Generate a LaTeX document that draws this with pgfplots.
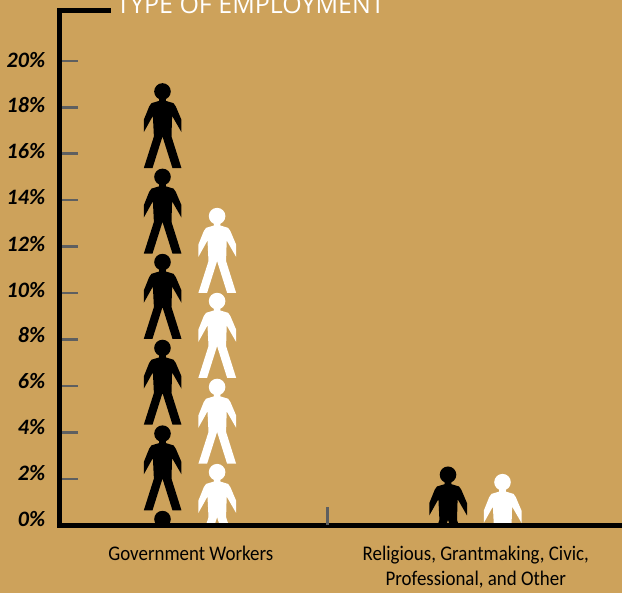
\documentclass[border=0pt]{standalone}
\usepackage{fontspec}
\setmainfont{Carlito}
\newfontfamily\titlefont{Open Sans}
\newfontfamily\catfont[FakeStretch=0.91]{Carlito}
\usepackage{pgfplots}
\pgfplotsset{compat=1.18}
\definecolor{kraft}{HTML}{CDA25B}
\definecolor{tickgray}{HTML}{5E5F60}
% one drawing unit: all sizes below are given in these units
\newdimen\u \u=0.75pt
% pictogram of a standing figure, anchored at the top of the head
\newcommand\pp[2]{\pgfqpoint{#1\u}{#2\u}}
\pgfdeclareplotmark{person}{%
  \pgfpathcircle{\pp{0}{-8.3}}{8.3\u}%
  \pgfpathmoveto{\pp{-3.3}{-15}}%
  \pgfpathlineto{\pp{-3.3}{-17.7}}%
  \pgfpathlineto{\pp{-11}{-20}}%
  \pgfpathlineto{\pp{-13.3}{-23.3}}%
  \pgfpathlineto{\pp{-18.7}{-36.7}}%
  \pgfpathlineto{\pp{-18.7}{-49}}%
  \pgfpathlineto{\pp{-9.6}{-32.7}}%
  \pgfpathlineto{\pp{-8.6}{-53.3}}%
  \pgfpathlineto{\pp{-18.7}{-85}}%
  \pgfpathlineto{\pp{-10}{-85}}%
  \pgfpathlineto{\pp{0}{-53.3}}%
  \pgfpathlineto{\pp{10}{-85}}%
  \pgfpathlineto{\pp{19}{-85}}%
  \pgfpathlineto{\pp{9}{-53.3}}%
  \pgfpathlineto{\pp{9.6}{-32.7}}%
  \pgfpathlineto{\pp{19}{-49}}%
  \pgfpathlineto{\pp{19}{-36.7}}%
  \pgfpathlineto{\pp{13.3}{-23.3}}%
  \pgfpathlineto{\pp{11}{-20}}%
  \pgfpathlineto{\pp{3.3}{-17.7}}%
  \pgfpathlineto{\pp{3.3}{-15}}%
  \pgfpathclose
  \pgfusepathqfill
}
% percent label with a small vertical offset; box size fixed so the node stays put
\newcommand\lab[2]{\raisebox{#1\u}[0.7em][0pt]{\bfseries\itshape\fontsize{22\u}{22\u}\selectfont #2}}
\begin{document}
\begin{tikzpicture}
\useasboundingbox (0,0) rectangle (622\u,593\u);
\clip (0,0) rectangle (622\u,593\u);
\fill[kraft] (0,0) rectangle (622\u,593\u);
\begin{axis}[
  at={(59.8\u,67.8\u)}, anchor=south west,
  scale only axis, width=580\u, height=514.7\u,
  xmin=-0.4596, xmax=1.5754, ymin=0, ymax=22.17,
  axis x line=bottom, axis y line=left,
  axis line style={-, black, line width=5\u, line cap=rect},
  axis on top,
  clip=true, clip marker paths=true,
  tick align=inside, major tick length=18\u,
  ytick={0,2,...,20},
  yticklabels={\lab{4.5}{0\%},\lab{4}{2\%},\lab{3.7}{4\%},\lab{3.2}{6\%},\lab{3}{8\%},\lab{2}{10\%},\lab{1.5}{12\%},\lab{1.5}{14\%},\lab{1}{16\%},\lab{0.5}{18\%},\lab{0}{20\%}},
  y tick style={draw=tickgray, line width=2.5\u},
  yticklabel style={anchor=east, xshift=-10\u, yshift=-1.5\u},
  xtick={0,1},
  xticklabels={Government Workers,{Religious, Grantmaking, Civic,\\Professional, and Other}},
  x tick style={draw=none},
  xticklabel style={align=center, anchor=north, yshift=-16\u,
    font=\catfont\fontsize{20.8\u}{25\u}\selectfont},
  extra x ticks={0.478},
  extra x tick labels={},
  extra x tick style={x tick style={draw=tickgray, line width=3\u}},
]
% dark figures: stack for government workers, one for the other group
\addplot[only marks, mark=person, mark options={fill=black, draw=none}] coordinates {
  (-0.0993,19.04) (-0.0993,15.36) (-0.0993,11.69) (-0.0993,7.99) (-0.0993,4.30) (-0.0993,0.62)
  (0.9025,2.53)
};
% white figures
\addplot[only marks, mark=person, mark options={fill=white, draw=none}] coordinates {
  (0.0923,13.67) (0.0923,10.01) (0.0923,6.31) (0.0923,2.64)
  (1.0937,2.21)
};
\end{axis}
% short cap at the top of the vertical axis, and the heading beside it
\draw[black, line width=5\u] (57.3\u,582.5\u) -- (111\u,582.5\u);
\node[anchor=base west, inner sep=0pt, text=white] at (116\u,579.5\u)
  {\titlefont\fontsize{25\u}{25\u}\selectfont TYPE OF EMPLOYMENT};
\end{tikzpicture}
\end{document}
